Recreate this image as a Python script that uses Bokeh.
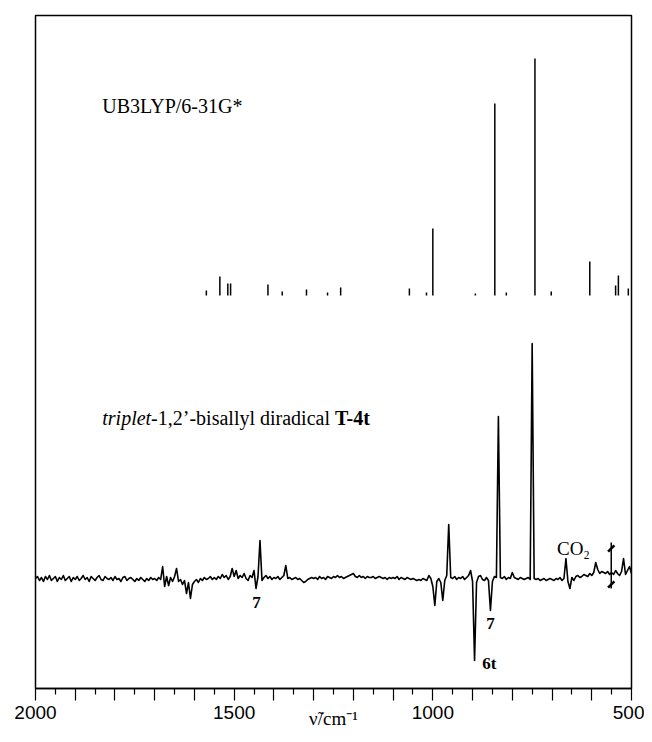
from bokeh.plotting import figure
from bokeh.models import FixedTicker, Range1d
from bokeh.core.properties import value
from bokeh.embed import file_html
from bokeh.resources import INLINE

# ---- calculated spectrum (UB3LYP/6-31G*) : stick positions / intensities
calc_wavenumber = [1570, 1536, 1516, 1509, 1415, 1379, 1318, 1265, 1232, 1059, 1016,
                   1000, 893, 844, 815, 743, 702, 605, 540, 533, 508]
calc_intensity = [5, 19, 12, 12, 11, 4, 6, 3, 8, 7, 3,
                  67, 2, 192, 3, 237, 4, 34, 10, 20, 7]

# ---- experimental difference spectrum, sampled every 5 cm-1 from 2000 to 500
exp_absorbance = [
    0, 2, -2, 1, -3, 2, -1, 3, -2, 0,          # 2000-1955
    2, -3, 1, -1, 3, -2, 0, 2, -3, 1,          # 1950-1905
    -1, 2, -2, 0, 3, -1, 1, -3, 2, 0,          # 1900-1855
    -2, 1, 3, -1, -2, 2, 0, -1, 1, -2,         # 1850-1805
    2, -1, 0, -3, 1, 2, -2, 0, 1, -1,          # 1800-1755
    -3, 0, -2, 1, -1, -3, 0, -2, 1, -1,        # 1750-1705
    0, -2, 1, -1, 12, -8, 2, -7, 1, -3,        # 1700-1655
    2, 10, -3, -1, -6, -2, -15, -4, -20, -6,   # 1650-1605
    -3, -1, -4, 0, -2, 1, -1, 0, 2, -1,        # 1600-1555
    1, -1, 2, 0, 4, 1, 3, -1, 2, 10,           # 1550-1505
    2, 8, 0, 3, 1, 5, 0, -2, 3, 1,             # 1500-1455
    8, -10, 2, 38, -2, 1, 3, 0, 2, -1,         # 1450-1405
    1, 0, 2, -1, 1, 3, 13, 0, 1, -1,           # 1400-1355
    0, 1, -1, 0, -2, -4, -3, -1, 0, 1,         # 1350-1305
    0, 1, -1, 2, 0, 1, -1, 2, 1, 0,            # 1300-1255
    2, 1, 3, 1, 2, 0, 1, 2, 3, 4,              # 1250-1205
    5, 2, 1, 3, 1, 2, 0, 2, 1, 1,              # 1200-1155
    2, 0, 1, 2, 1, 0, 1, -1, 1, 0,             # 1150-1105
    1, 0, 2, -1, 1, 0, -1, 1, 0, -1,           # 1100-1055
    0, -1, -2, -1, -2, 0, -1, -2, 3, 0,        # 1050-1005
    -8, -27, -3, 0, -4, -22, -2, 3, 54, 1,     # 1000-955
    0, 2, -1, 1, 0, 2, -1, 1, 3, 8,            # 950-905
    -3, -82, -4, 2, 3, -1, -2, 1, -2, -32,     # 900-855
    -3, 2, 1, 162, 1, 0, 2, -1, 1, 0,          # 850-805
    6, 1, 0, -1, 1, 0, -1, 0, 1, -1,           # 800-755
    235, 0, -1, 0, -2, -1, 0, -2, -1, 0,       # 750-705
    -1, -2, 0, -1, 1, -2, 0, 20, -3, -10,      # 700-655
    1, -2, 2, 3, 1, 2, 4, 3, 2, 5,             # 650-605
    3, 6, 16, 9, 5, 7, 6, 5, 7, 4,             # 600-555
    6, 4, 8, 5, 3, 7, 20, 4, 8, 12,            # 550-505
    5,                                         # 500
]
exp_wavenumber = list(range(2000, 499, -5))
assert len(exp_wavenumber) == len(exp_absorbance)

# compensation artefact (vertical bar with marks) in the experimental trace
artefact_wavenumber = [551]
artefact_top = [36]
artefact_bottom = [-10]

# axis ticks
tick_values = [2000, 1900, 1800, 1700, 1600, 1500, 1400, 1300, 1200, 1100,
               1000, 900, 800, 700, 600, 500]
minor_tick_values = [1950, 1850, 1750, 1650, 1550, 1450, 1350, 1250, 1150,
                     1050, 950, 850, 750, 650, 550]
tick_labels = {2000: "2000", 1500: "1500", 1000: "1000", 500: "500"}
x_axis_title = "\u03bd\u0303/cm\u207b\u00b9"

# annotation texts
band_label_text = ["7", "7", "6t"]
band_label_wavenumber = [1444, 855, 858]
band_label_offset = [-24, -45, -85]

# ---- layout offsets (vertical stacking of the two traces)
calc_base = 393
exp_base = 110

p = figure(width=644, height=734, x_range=Range1d(2000, 500), y_range=Range1d(0, 673),
           output_backend="svg", toolbar_location=None, y_axis_type=None,
           min_border_left=35, min_border_right=13, min_border_top=15, min_border_bottom=46)
p.xgrid.visible = False
p.ygrid.visible = False
p.outline_line_color = "black"
p.outline_line_width = 1.5
p.outline_line_alpha = 1.0
p.background_fill_color = "white"
p.border_fill_color = "white"

ax = p.xaxis[0]
ax.ticker = FixedTicker(ticks=tick_values, minor_ticks=minor_tick_values)
ax.major_label_overrides = {t: tick_labels.get(t, "") for t in tick_values}
ax.major_tick_in = 0
ax.major_tick_out = 12
ax.minor_tick_in = 0
ax.minor_tick_out = 6
ax.axis_line_width = 1.5
ax.axis_line_color = "black"
ax.major_tick_line_width = 1.2
ax.minor_tick_line_width = 1.2
ax.major_tick_line_color = "black"
ax.minor_tick_line_color = "black"
ax.major_label_text_font = "Liberation Sans"
ax.major_label_text_font_size = "19px"
ax.major_label_text_color = "black"
ax.major_label_standoff = 5
ax.axis_label = x_axis_title
ax.axis_label_text_font = "Liberation Serif"
ax.axis_label_text_font_style = "normal"
ax.axis_label_text_font_size = "19px"
ax.axis_label_text_color = "black"
ax.axis_label_standoff = -14

# calculated sticks
p.segment(x0=calc_wavenumber, y0=[calc_base] * len(calc_wavenumber),
          x1=calc_wavenumber, y1=[calc_base + v for v in calc_intensity],
          line_color="black", line_width=1.5)

# experimental trace
p.line(x=exp_wavenumber, y=[exp_base + v for v in exp_absorbance],
       line_color="black", line_width=1.6, line_join="round")

# artefact bar
p.segment(x0=artefact_wavenumber, y0=[exp_base + v for v in artefact_bottom],
          x1=artefact_wavenumber, y1=[exp_base + v for v in artefact_top],
          line_color="black", line_width=1.5)
p.scatter(x=artefact_wavenumber * 2,
          y=[exp_base + artefact_top[0] - 6, exp_base + artefact_bottom[0] + 4],
          marker="dash", size=9, angle=0.8, line_color="black", line_width=2.5)

# texts
p.text(x=[1832], y=[583], text=["UB3LYP/6-31G*"], text_font=value("Liberation Serif"),
       text_font_size="20px", text_align="left", text_baseline="middle", text_color="black")
p.text(x=[1832], y=[271], text=["triplet"], text_font=value("Liberation Serif"),
       text_font_style="italic", text_font_size="20px", text_align="left",
       text_baseline="middle", text_color="black")
p.text(x=[1709], y=[271], text=["-1,2\u2019-bisallyl diradical"], text_font=value("Liberation Serif"),
       text_font_size="20px", text_align="left", text_baseline="middle", text_color="black")
p.text(x=[1246], y=[271], text=["T-4t"], text_font=value("Liberation Serif"),
       text_font_style="bold", text_font_size="20px", text_align="left",
       text_baseline="middle", text_color="black")

p.text(x=band_label_wavenumber, y=[exp_base + v for v in band_label_offset],
       text=band_label_text, text_font=value("Liberation Serif"), text_font_style="bold",
       text_font_size="17px", text_align="center", text_baseline="middle", text_color="black")
p.text(x=[646], y=[exp_base + 30], text=["CO\u2082"], text_font=value("Liberation Serif"),
       text_font_size="19px", text_align="center", text_baseline="middle", text_color="black")

open("out.html", "w").write(file_html(p, INLINE))
